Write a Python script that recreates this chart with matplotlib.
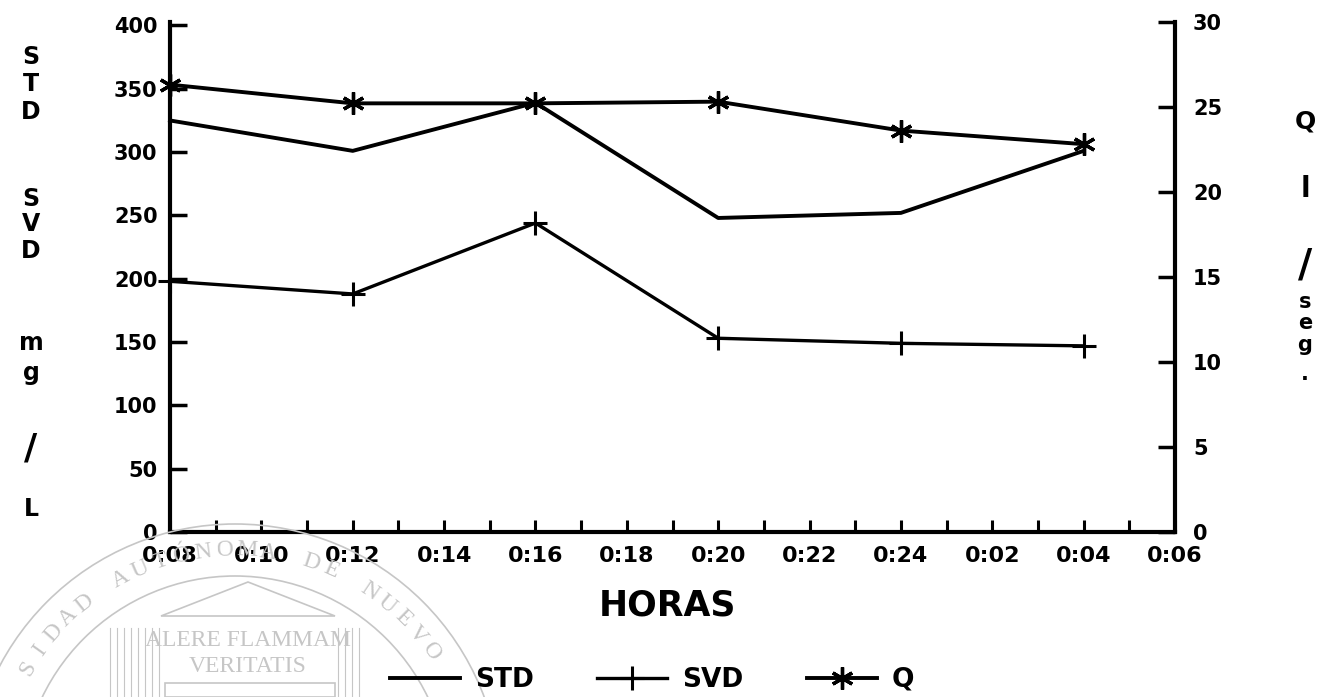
import matplotlib
matplotlib.use("Agg")
import matplotlib.pyplot as plt
import numpy as np
from matplotlib.transforms import IdentityTransform
from matplotlib.patches import Circle, Polygon, Rectangle

# ---------------- data ----------------
hours = ["0:08", "0:10", "0:12", "0:14", "0:16", "0:18",
         "0:20", "0:22", "0:24", "0:02", "0:04", "0:06"]
sample_hours = ["0:08", "0:12", "0:16", "0:20", "0:24", "0:04"]
std_mg_l = [325, 301, 339, 248, 252, 301]
svd_mg_l = [198, 188, 244, 153, 149, 147]
q_l_seg = [26.3, 25.2, 25.2, 25.3, 23.6, 22.8]
left_ticks = [0, 50, 100, 150, 200, 250, 300, 350, 400]
right_ticks = [0, 5, 10, 15, 20, 25, 30]
legend_labels = ["STD", "SVD", "Q"]
xlabel_text = "HORAS"
left_label_letters = ["S", "T", "D", "S", "V", "D", "m", "g", "/", "L"]
right_label_letters = ["Q", "l", "/", "s", "e", "g", "."]
seal_ring_text = "UNIVERSIDAD AUTÓNOMA DE NUEVO LEÓN"
seal_motto = ["ALERE FLAMMAM", "VERITATIS"]

# ---------------- layout ----------------
W, H = 1322, 697
fig = plt.figure(figsize=(W / 100, H / 100), dpi=100)
fig.patch.set_facecolor("white")
ident = IdentityTransform()

# faint watermark seal (background)
grey = "#c6c6c6"
cx, cy = 235, 790          # image pixel coords of seal centre
for r in (214, 266):
    fig.patches.append(Circle((cx, H - cy), r, transform=ident, fill=False,
                              ec=grey, lw=1.2, zorder=0))
step, mid, theta0, rt = 5.2, 16.5, 95, 240
for i, ch in enumerate(seal_ring_text):
    th = np.deg2rad(theta0 + (mid - i) * step)
    tx = cx + rt * np.cos(th)
    ty = (H - cy) + rt * np.sin(th)
    if ch == " " or tx < 12 or ty < 14:
        continue   # part of the ring that falls outside the page
    fig.text(tx, ty, ch, transform=ident, rotation=np.rad2deg(th) - 90,
             ha="center", va="center", fontsize=17, family="Liberation Serif",
             color=grey, zorder=0)
fig.patches.append(Polygon([(161, H - 616), (335, H - 616), (248, H - 582)],
                           closed=True, transform=ident, fill=False, ec=grey,
                           lw=1.2, zorder=0))
fig.patches.append(Rectangle((165, 0), 170, H - 683, transform=ident,
                             fill=False, ec=grey, lw=1.2, zorder=0))
for xx in list(range(110, 162, 7)) + list(range(338, 364, 7)):
    fig.lines.append(plt.Line2D([xx, xx], [0, H - 628], transform=ident,
                                color=grey, lw=0.8, zorder=0))
fig.text(248, H - 640, seal_motto[0], transform=ident, ha="center", va="center",
         fontsize=17, family="Liberation Serif", color=grey, stretch="condensed")
fig.text(248, H - 666, seal_motto[1], transform=ident, ha="center", va="center",
         fontsize=17, family="Liberation Serif", color=grey)

# main axes
ax = fig.add_axes([170 / W, 1 - 532 / H, (1175 - 170) / W, (532 - 21.7) / H])
ax.set_facecolor("none")
x_samp = [hours.index(h) for h in sample_hours]

l_std, = ax.plot(x_samp, std_mg_l, color="k", lw=2.8, label=legend_labels[0],
                 clip_on=False, zorder=3)
l_svd, = ax.plot(x_samp, svd_mg_l, color="k", lw=2.4, marker="+", ms=17, mew=2.2,
                 label=legend_labels[1], clip_on=False, zorder=3)
ax2 = ax.twinx()
l_q, = ax2.plot(x_samp, q_l_seg, color="k", lw=2.8, marker=(6, 2, 0), ms=16,
                mew=2.4, label=legend_labels[2], clip_on=False, zorder=3)

ax.set_xlim(0, len(hours) - 1)
ax.set_ylim(0, 403)
ax2.set_ylim(0, 30)

ax.set_xticks(range(len(hours)))
ax.set_xticklabels(hours)
ax.set_xticks(np.arange(0.5, len(hours) - 1, 1), minor=True)
ax.set_yticks(left_ticks)
ax2.set_yticks(right_ticks)

ax.tick_params(axis="x", which="both", direction="in", length=8.5, width=2.2,
               pad=10, labelsize=16, color="k")
ax.tick_params(axis="y", direction="in", length=12, width=2.5, pad=9,
               labelsize=15)
ax2.tick_params(axis="y", direction="in", length=12, width=2.5, pad=13,
                labelsize=15)
for lab in ax.get_xticklabels() + ax.get_yticklabels() + ax2.get_yticklabels():
    lab.set_fontweight("bold")

for s in ("top", "right"):
    ax.spines[s].set_visible(False)
for s in ("left", "bottom"):
    ax.spines[s].set_linewidth(3)
for s in ("top", "left", "bottom"):
    ax2.spines[s].set_visible(False)
ax2.spines["right"].set_linewidth(3)

# stacked axis titles
left_y = [57, 84, 112, 199, 224, 251, 343, 373, 448, 509]
left_sz = [17, 17, 17, 17, 17, 17, 17, 17, 26, 17]
for ch, yy, sz in zip(left_label_letters, left_y, left_sz):
    fig.text(31 / W, 1 - yy / H, ch, ha="center", va="center", fontsize=sz,
             fontweight="bold")
right_y = [122, 189, 266, 302, 323, 345, 374]
right_sz = [18, 20, 28, 15, 15, 15, 15]
for ch, yy, sz in zip(right_label_letters, right_y, right_sz):
    fig.text(1305 / W, 1 - yy / H, ch, ha="center", va="center", fontsize=sz,
             fontweight="bold")

fig.text(667 / W, 1 - 605 / H, xlabel_text, ha="center", va="center",
         fontsize=25, fontweight="bold")

fig.legend([l_std, l_svd, l_q], legend_labels, loc="center",
           bbox_to_anchor=(652 / W, 1 - 680 / H), ncol=3, frameon=False,
           handlelength=2.65, handletextpad=0.57, columnspacing=2.4,
           numpoints=1, prop={"weight": "bold", "size": 19})

fig.savefig("out.png", dpi=100, facecolor="white")
